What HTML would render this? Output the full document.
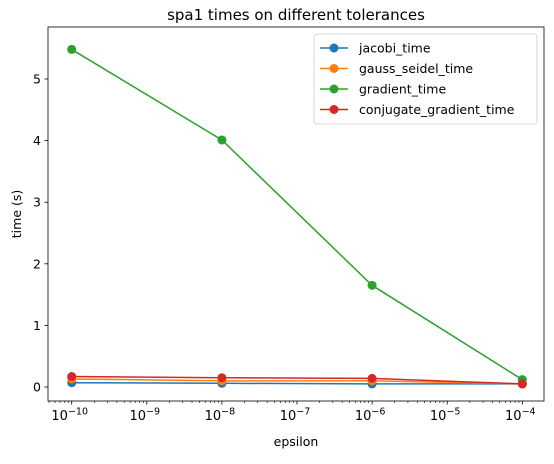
<!DOCTYPE html>
<html><head><meta charset="utf-8"><style>
body{margin:0;background:#fff;font-family:"Liberation Sans","DejaVu Sans",sans-serif}
</style></head><body>
<svg id="c" width="554" height="459" xmlns="http://www.w3.org/2000/svg" font-family="DejaVu Sans, Liberation Sans, sans-serif"></svg>
<script>
const exps=[-10,-8,-6,-4];
const seriesNames=["jacobi_time","gauss_seidel_time","gradient_time","conjugate_gradient_time"];
const jacobi=[0.07,0.06,0.05,0.05];
const gauss=[0.13,0.10,0.10,0.05];
const gradient=[5.48,4.01,1.65,0.12];
const conjugate=[0.17,0.15,0.14,0.05];
const yTicks=[0,1,2,3,4,5];
const xTickExps=[-10,-9,-8,-7,-6,-5,-4];
const colors=["#1f77b4","#ff7f0e","#2ca02c","#d62728"];
const L=48,R=544,T=27,B=401;
const xs=e=>71.7+(e+10)*75.1;
const ys=v=>387-v*61.6;
const svg=document.getElementById('c');
const NS="http://www.w3.org/2000/svg";
function mk(t,a,p){const e=document.createElementNS(NS,t);for(const k in a)e.setAttribute(k,a[k]);(p||svg).appendChild(e);return e;}
let t=mk('text',{x:(L+R)/2,y:20,'text-anchor':'middle','font-size':15});t.textContent="spa1 times on different tolerances";


for(let d=-11;d<=-4;d++)for(let m=2;m<=9;m++){const x=xs(d+Math.log10(m));if(x<L||x>R)continue;mk('line',{x1:x,x2:x,y1:B,y2:B+2,stroke:'#000','stroke-width':0.6});}
xTickExps.forEach(e=>{const x=xs(e);mk('line',{x1:x,x2:x,y1:B,y2:B+3.5,stroke:'#000','stroke-width':0.8});
const tx=mk('text',{x:x-2,y:B+19,'text-anchor':'middle','font-size':13});tx.textContent="10";
const s=mk('tspan',{dy:-5.5,'font-size':9.5},tx);s.textContent="\u2212"+(-e);

});
yTicks.forEach(v=>{const y=ys(v);mk('line',{x1:L-3.5,x2:L,y1:y,y2:y,stroke:'#000','stroke-width':0.8});
const tx=mk('text',{x:L-7,y:y+4.5,'text-anchor':'end','font-size':12.5});tx.textContent=v;

});
let xl=mk('text',{x:(L+R)/2,y:446,'text-anchor':'middle','font-size':12.5});xl.textContent="epsilon";


let yl=mk('text',{x:0,y:0,'text-anchor':'middle','font-size':12.5,transform:`translate(21,${(T+B)/2}) rotate(-90)`});yl.textContent="time (s)";


[jacobi,gauss,gradient,conjugate].forEach((arr,i)=>{
 const g=mk('g',{});
 
 
 mk('polyline',{points:arr.map((v,j)=>xs(exps[j])+','+ys(v)).join(' '),fill:'none',stroke:colors[i],'stroke-width':1.5},g);
 arr.forEach((v,j)=>{const c=mk('circle',{cx:xs(exps[j]),cy:ys(v),r:4.5,fill:colors[i]},g);
 
 });
});
mk('rect',{x:L,y:T,width:R-L,height:B-T,fill:'none',stroke:'#000','stroke-width':0.8});
const lg=mk('g',{});


mk('rect',{x:314,y:34,width:223,height:90,rx:3,fill:'#fff',stroke:'#ccc','stroke-width':0.8},lg);
seriesNames.forEach((n,i)=>{const y=48+i*20.5;
 const e=mk('g',{},lg);
 
 
 mk('line',{x1:320,x2:348,y1:y,y2:y,stroke:colors[i],'stroke-width':1.5},e);
 mk('circle',{cx:334,cy:y,r:4.5,fill:colors[i]},e);
 const tx=mk('text',{x:359,y:y+4.5,'font-size':12.5},e);tx.textContent=n;});
</script>
</body></html>
